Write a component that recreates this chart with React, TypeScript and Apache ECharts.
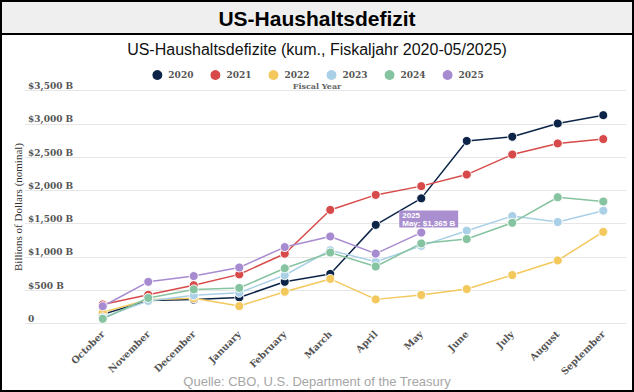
import React, { useEffect, useRef } from 'react';
import * as echarts from 'echarts';

const months = ['October', 'November', 'December', 'January', 'February', 'March', 'April', 'May', 'June', 'July', 'August', 'September'];
const years = ['2020', '2021', '2022', '2023', '2024', '2025'];
const fy2020 = [134, 343, 357, 389, 624, 743, 1481, 1880, 2744, 2807, 3007, 3132];
const fy2021 = [284, 429, 573, 736, 1047, 1706, 1932, 2064, 2238, 2540, 2707, 2772];
const fy2022 = [165, 356, 377, 259, 475, 668, 360, 426, 515, 726, 946, 1375];
const fy2023 = [88, 337, 421, 460, 723, 1100, 925, 1165, 1393, 1613, 1524, 1695];
const fy2024 = [67, 381, 510, 532, 828, 1065, 855, 1202, 1268, 1512, 1897, 1833];
const fy2025 = [257, 624, 711, 840, 1147, 1307, 1049, 1365];
const yMin = 0;
const yMax = 3500;
const yStep = 500;

const palette = ['#0c2447', '#d84a4a', '#f3c85d', '#a9d0e6', '#86c3a0', '#a78bd0'];

export default function App() {
  const ref = useRef<HTMLDivElement>(null);
  useEffect(() => {
    if (!ref.current) return;
    const chart = echarts.init(ref.current, null, { renderer: 'svg' });
    const all = [fy2020, fy2021, fy2022, fy2023, fy2024, fy2025];
    const serif = 'DejaVu Serif';
    const series = years.map((y, i) => {
      const data: any[] = all[i].map((v) => v);
      if (i === 5) {
        const last = data.length - 1;
        data[last] = {
          value: all[i][last],
          label: {
            show: true,
            position: 'top',
            distance: 0,
            align: 'left',
            offset: [-22, 0],
            formatter: '2025\nMay: $1,365 B',
            backgroundColor: '#a98fcf',
            color: '#fff',
            fontFamily: 'Liberation Sans',
            fontWeight: 'bold',
            fontSize: 8,
            lineHeight: 8,
            padding: [1, 3, 0, 3],
          },
        };
      }
      return {
        type: 'line',
        name: y,
        xAxisIndex: 1,
        yAxisIndex: 1,
        data,
        symbol: 'circle',
        symbolSize: 9,
        showSymbol: true,
        lineStyle: { width: 1.5, color: palette[i] },
        itemStyle: { color: palette[i], borderColor: '#fff', borderWidth: 1 },
        z: 2 + i,
      };
    });
    chart.setOption({
      animation: false,
      backgroundColor: '#ffffff',
      color: palette,
      legend: {
        data: years,
        left: 'center',
        top: 63,
        icon: 'circle',
        itemWidth: 12,
        itemHeight: 12,
        itemGap: 15,
        textStyle: { fontFamily: serif, fontWeight: 'bold', fontSize: 9, color: '#555' },
      },
      grid: [
        { left: 25, right: 8, top: 90.7, bottom: 68.7 },
        { left: 80, right: 8, top: 90.7, bottom: 68.7 },
      ],
      xAxis: [
        { gridIndex: 0, type: 'value', show: false, min: 0, max: 1 },
        {
          gridIndex: 1,
          type: 'category',
          data: months,
          boundaryGap: true,
          axisLine: { show: false },
          axisTick: { show: false },
          axisLabel: {
            rotate: 45,
            margin: 9,
            interval: 0,
            fontFamily: serif,
            fontWeight: 'bold',
            fontSize: 9.5,
            color: '#555',
          },
        },
      ],
      yAxis: [
        {
          gridIndex: 0,
          type: 'value',
          min: yMin,
          max: yMax,
          interval: yStep,
          axisLine: { show: false },
          axisTick: { show: false },
          splitLine: { lineStyle: { color: '#e6e6e6', width: 1 } },
          axisLabel: {
            inside: true,
            margin: 3,
            verticalAlign: 'bottom',
            fontFamily: serif,
            fontWeight: 'bold',
            fontSize: 9,
            color: '#555',
            formatter: (v: number) => (v === 0 ? '0' : '$' + v.toLocaleString('en-US') + ' B'),
          },
        },
        { gridIndex: 1, type: 'value', min: yMin, max: yMax, interval: yStep, show: false },
      ],
      graphic: [
        { type: 'rect', z: -10, shape: { x: 0, y: 0, width: 634, height: 34 }, style: { fill: '#efefef' } },
        { type: 'line', z: 100, shape: { x1: 0, y1: 34, x2: 634, y2: 34 }, style: { stroke: '#000', lineWidth: 2 } },
        { type: 'rect', z: 100, shape: { x: 1, y: 1, width: 632, height: 390 }, style: { fill: 'none', stroke: '#000', lineWidth: 2 } },
        {
          type: 'text', x: 317, y: 18,
          style: { text: 'US-Haushaltsdefizit', fill: '#000', font: 'bold 21px "Liberation Sans"', textAlign: 'center', textVerticalAlign: 'middle' },
        },
        {
          type: 'text', x: 317, y: 49,
          style: { text: 'US-Haushaltsdefizite (kum., Fiskaljahr 2020-05/2025)', fill: '#111', font: '16px "Liberation Sans"', textAlign: 'center', textVerticalAlign: 'middle' },
        },
        {
          type: 'text', x: 317, y: 86,
          style: { text: 'Fiscal Year', fill: '#666', font: 'bold 8px "DejaVu Serif"', textAlign: 'center', textVerticalAlign: 'middle' },
        },
        {
          type: 'text', x: 18, y: 207, rotation: Math.PI / 2,
          style: { text: 'Billions of Dollars (nominal)', fill: '#333', font: '11px "Liberation Serif"', textAlign: 'center', textVerticalAlign: 'middle' },
        },
        {
          type: 'text', x: 317, y: 381,
          style: { text: 'Quelle: CBO, U.S. Department of the Treasury', fill: '#a6a6a6', font: '13px "Liberation Sans"', textAlign: 'center', textVerticalAlign: 'middle' },
        },
      ],
      series,
    });
    return () => chart.dispose();
  }, []);
  return <div ref={ref} style={{ position: 'fixed', left: 0, top: 0, width: 634, height: 392, background: '#fff' }} />;
}
